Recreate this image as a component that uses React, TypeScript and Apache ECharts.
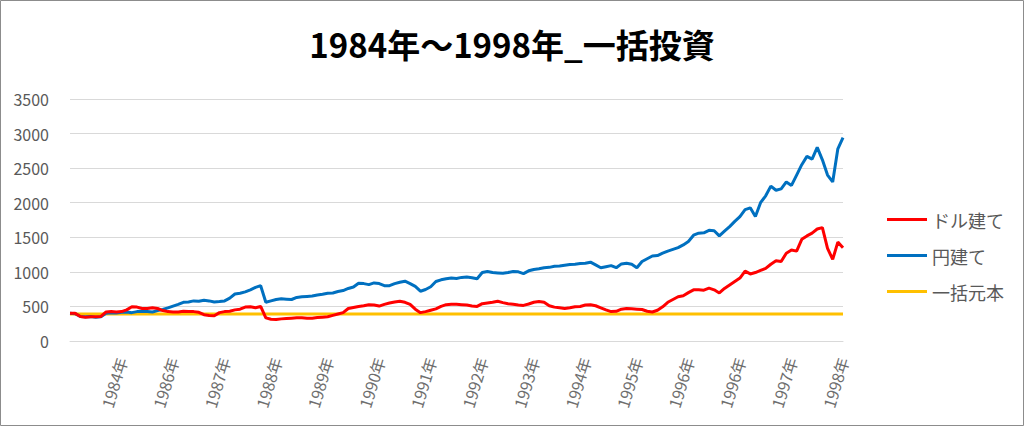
import React, { useEffect, useRef } from "react";
import * as echarts from "echarts";

const FONT = "'Noto Sans CJK JP', 'Noto Sans', sans-serif";

const titleText = "1984年～1998年_一括投資";
const seriesNames = ["ドル建て", "円建て", "一括元本"];

// Tick labels shown every 10th point (points 10, 20, ..., 150)
const tickLabels = [
  "1984年", "1986年", "1987年", "1988年", "1989年", "1990年", "1991年",
  "1992年", "1993年", "1994年", "1995年", "1996年", "1996年", "1997年", "1998年",
];

// ドル建て (red)
const dollarValues = [
  400, 400, 355, 345, 350, 350, 355, 420, 425, 420,
  425, 450, 495, 490, 470, 470, 480, 470, 440, 425,
  420, 420, 430, 425, 425, 415, 380, 370, 365, 410,
  425, 430, 450, 460, 490, 495, 480, 500, 335, 315,
  310, 320, 325, 330, 335, 335, 330, 330, 340, 345,
  350, 370, 390, 410, 470, 485, 500, 510, 525, 520,
  505, 530, 550, 565, 575, 560, 530, 460, 410, 425,
  445, 465, 500, 525, 530, 530, 525, 520, 505, 500,
  540, 550, 560, 575, 555, 540, 530, 520, 515, 535,
  560, 570, 560, 510, 490, 480, 470, 480, 495, 500,
  520, 525, 510, 480, 450, 425, 430, 460, 470, 465,
  460, 455, 430, 420, 445, 495, 560, 600, 640, 655,
  700, 740, 740, 735, 765, 740, 695, 760, 810, 860,
  910, 1010, 970, 990, 1020, 1050, 1110, 1160, 1150, 1270,
  1315, 1300, 1470, 1520, 1560, 1620, 1640, 1340, 1180, 1430,
  1350,
];

// 円建て (blue)
const yenValues = [
  400, 395, 355, 350, 355, 345, 350, 400, 410, 405,
  415, 420, 410, 425, 430, 425, 420, 440, 455, 480,
  505, 530, 560, 565, 580, 575, 590, 580, 565, 570,
  580, 620, 680, 690, 710, 740, 775, 800, 560, 580,
  600, 610, 605, 600, 630, 640, 645, 650, 665, 675,
  690, 695, 715, 730, 760, 780, 835, 830, 815, 840,
  830, 800, 800, 830, 850, 865, 830, 790, 720, 745,
  785, 860, 885, 900, 910, 905, 920, 925, 915, 900,
  990, 1005, 990, 985, 980, 990, 1005, 1000, 975, 1015,
  1035, 1045, 1060, 1065, 1080, 1085, 1095, 1105, 1110, 1120,
  1125, 1140, 1100, 1060, 1075, 1090, 1060, 1115, 1125, 1110,
  1060, 1150, 1190, 1230, 1236, 1270, 1300, 1325, 1350, 1390,
  1440, 1530, 1560, 1565, 1600, 1595, 1520, 1590, 1655, 1730,
  1800, 1900, 1926, 1800, 2000, 2100, 2240, 2180, 2200, 2300,
  2250, 2400, 2550, 2670, 2630, 2800, 2620, 2400, 2300, 2780,
  2940,
];

// 一括元本 (yellow) – constant principal
const PRINCIPAL = 390;
const principalValues = dollarValues.map(() => PRINCIPAL);

const categories = dollarValues.map((_, i) => String(i));

export default function App() {
  const ref = useRef<HTMLDivElement>(null);

  useEffect(() => {
    const chart = echarts.init(ref.current!, null, { renderer: "svg" });
    chart.setOption({
      animation: false,
      backgroundColor: "#ffffff",
      textStyle: { fontFamily: FONT },
      title: {
        text: titleText,
        left: "center",
        top: 27,
        padding: 0,
        textStyle: { fontSize: 33, fontWeight: "bold", color: "#000000", fontFamily: FONT },
      },
      graphic: [
        {
          type: "rect",
          shape: { x: 0.5, y: 0.5, width: 1023, height: 425 },
          style: { fill: "none", stroke: "#8c8c8c", lineWidth: 1 },
          silent: true,
        },
      ],
      grid: { left: 70, right: 181, top: 99, bottom: 85, containLabel: false },
      legend: {
        orient: "vertical",
        left: 882,
        top: 204,
        itemWidth: 40,
        itemHeight: 3,
        itemGap: 15,
        icon: "rect",
        data: seriesNames,
        textStyle: { fontSize: 18, color: "#595959", fontFamily: FONT, lineHeight: 21 },
      },
      xAxis: {
        type: "category",
        data: categories,
        boundaryGap: false,
        axisLine: { show: true, lineStyle: { color: "#d9d9d9", width: 1 } },
        axisTick: { show: false },
        splitLine: { show: false },
        axisLabel: {
          interval: (i: number) => i > 0 && i % 10 === 0,
          formatter: (_v: string, i: number) => (i > 0 && i % 10 === 0 ? tickLabels[i / 10 - 1] : ""),
          rotate: 73,
          fontSize: 16,
          color: "#6e6e6e",
          fontFamily: FONT,
          margin: 17,
        },
      },
      yAxis: {
        type: "value",
        min: 0,
        max: 3500,
        interval: 500,
        axisLine: { show: false },
        axisTick: { show: false },
        splitLine: { lineStyle: { color: "#d9d9d9", width: 1 } },
        axisLabel: {
          fontSize: 16,
          color: "#595959",
          fontFamily: FONT,
          margin: 21,
          formatter: (v: number) => String(v),
        },
      },
      series: [
        {
          name: seriesNames[0],
          type: "line",
          data: dollarValues,
          symbol: "none",
          z: 4,
          lineStyle: { color: "#ff0000", width: 3 },
          itemStyle: { color: "#ff0000" },
        },
        {
          name: seriesNames[1],
          type: "line",
          data: yenValues,
          symbol: "none",
          z: 3,
          lineStyle: { color: "#0070c0", width: 3 },
          itemStyle: { color: "#0070c0" },
        },
        {
          name: seriesNames[2],
          type: "line",
          data: principalValues,
          symbol: "none",
          z: 2,
          lineStyle: { color: "#ffc000", width: 3 },
          itemStyle: { color: "#ffc000" },
        },
      ],
    });
    return () => chart.dispose();
  }, []);

  return (
    <div
      ref={ref}
      style={{ position: "fixed", left: 0, top: 0, width: 1024, height: 426, background: "#ffffff" }}
    />
  );
}
